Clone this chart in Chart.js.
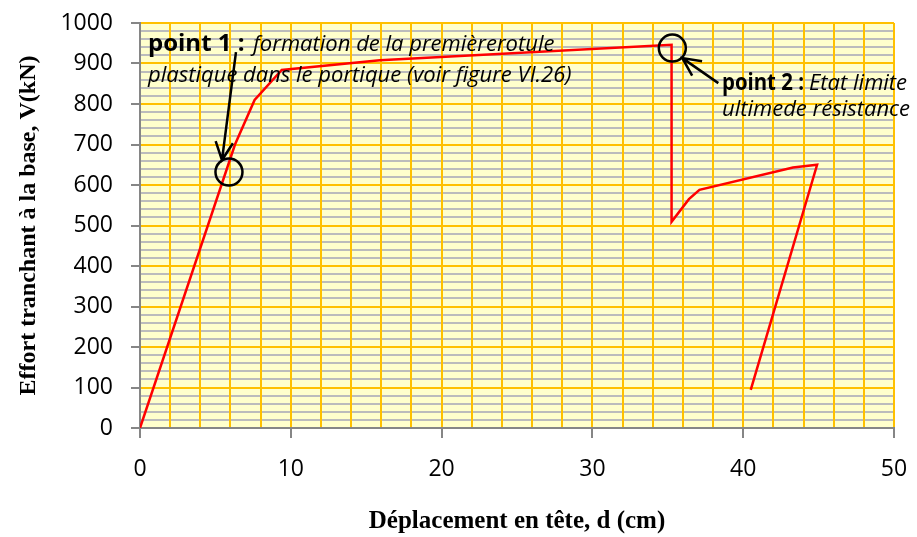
<!DOCTYPE html>
<html>
<head>
<meta charset="utf-8">
<script src="https://cdn.jsdelivr.net/npm/chart.js@4/dist/chart.umd.min.js"></script>
<style>
  body { margin: 0; background: #fff; }
  canvas { display: block; }
</style>
</head>
<body>
<canvas id="chart" width="917" height="537"></canvas>
<script>
'use strict';

// pushover curve: top displacement (cm) vs base shear (kN)
const dispCm   = [0, 6.3, 7.6, 9.4, 15.9, 35.25, 35.25, 36.4, 37.1, 43.3, 44.9, 40.5];
const shearKN  = [0, 700, 810, 884, 908, 946,   509,   565,  588,  643,  650,  94];

const xTicks = [0, 10, 20, 30, 40, 50];
const yTicks = [0, 100, 200, 300, 400, 500, 600, 700, 800, 900, 1000];

// marked points on the curve
const point1 = { x: 5.9, y: 632 };
const point2 = { x: 35.3, y: 938 };

const ORANGE = '#FFC000';
const GREY_MINOR = '#BCBCBC';
const GREY_AXIS = '#868686';
const tickFont = { family: 'Open Sans', size: 23 };

let canvasElem = document.getElementById('chart');

const plotBackground = {
  id: 'plotBackground',
  beforeDraw(chart) {
    const { ctx, chartArea: a } = chart;
    ctx.save();
    ctx.fillStyle = '#FFFFCC';
    ctx.fillRect(a.left, a.top, a.right - a.left, a.bottom - a.top);
    ctx.restore();
  }
};

function arrow(ctx, x1, y1, x2, y2) {
  const ang = Math.atan2(y2 - y1, x2 - x1);
  const len = 20, spread = 0.45;
  ctx.beginPath();
  ctx.moveTo(x1, y1);
  ctx.lineTo(x2, y2);
  ctx.moveTo(x2 - len * Math.cos(ang - spread), y2 - len * Math.sin(ang - spread));
  ctx.lineTo(x2, y2);
  ctx.lineTo(x2 - len * Math.cos(ang + spread), y2 - len * Math.sin(ang + spread));
  ctx.stroke();
}

const notes = {
  id: 'notes',
  afterDatasetsDraw(chart) {
    const { ctx, scales: { x, y } } = chart;
    const p1x = x.getPixelForValue(point1.x), p1y = y.getPixelForValue(point1.y);
    const p2x = x.getPixelForValue(point2.x), p2y = y.getPixelForValue(point2.y);
    ctx.save();
    ctx.strokeStyle = '#000';
    ctx.lineWidth = 2.5;
    ctx.beginPath();
    ctx.arc(p1x, p1y, 13.5, 0, Math.PI * 2);
    ctx.stroke();
    ctx.beginPath();
    ctx.arc(p2x, p2y, 13.5, 0, Math.PI * 2);
    ctx.stroke();

    arrow(ctx, p1x + 7, p1y - 120, p1x - 7, p1y - 12);
    arrow(ctx, p2x + 46, p2y + 35, p2x + 10, p2y + 10);

    ctx.fillStyle = '#000';
    ctx.textBaseline = 'alphabetic';
    ctx.textAlign = 'left';
    ctx.font = 'bold 24px "Open Sans"';
    ctx.fillText('point 1 :', 148, 51, 97);
    ctx.fillText('point 2 :', 722, 90, 82);
    ctx.font = 'italic 22px "Open Sans"';
    ctx.fillText('formation de la premièrerotule', 253, 51, 303);
    ctx.fillText('plastique dans le portique (voir figure VI.26)', 148, 82, 428);
    ctx.fillText('Etat limite', 809, 90, 103);
    ctx.fillText('ultimede résistance', 722, 116, 191);
    ctx.restore();
  }
};

function renderChart() {
  const points = dispCm.map((d, i) => ({ x: d, y: shearKN[i] }));

  const config = {
    type: 'scatter',
    data: {
      datasets: [{
        data: points,
        showLine: true,
        borderColor: '#FF0000',
        borderWidth: 2.5,
        pointRadius: 0,
        tension: 0
      }]
    },
    options: {
      responsive: false,
      animation: false,
      layout: { padding: { top: 23, right: 23, left: 0, bottom: 0 } },
      plugins: { legend: { display: false }, tooltip: { enabled: false } },
      scales: {
        x: {
          type: 'linear',
          min: 0,
          max: 50,
          afterBuildTicks: s => { s.ticks = Array.from({ length: 26 }, (_, i) => ({ value: i * 2 })); },
          ticks: {
            autoSkip: false,
            maxRotation: 0,
            padding: 18,
            color: '#000',
            font: tickFont,
            callback: v => xTicks.includes(v) ? String(v) : ''
          },
          grid: {
            z: -1,
            color: ORANGE,
            lineWidth: 2,
            tickLength: 10,
            tickColor: c => xTicks.includes(c.tick.value) ? GREY_AXIS : 'rgba(0,0,0,0)'
          },
          border: { color: GREY_AXIS, width: 2 },
          title: {
            display: true,
            text: 'Déplacement en tête, d (cm)',
            color: '#000',
            font: { family: 'Liberation Serif', size: 25, weight: 'bold' },
            padding: { top: 0, bottom: 0 }
          },
          afterFit: s => { s.height = 109; s.paddingLeft = 0; s.paddingRight = 0; }
        },
        y: {
          min: 0,
          max: 1000,
          afterBuildTicks: s => { s.ticks = Array.from({ length: 51 }, (_, i) => ({ value: i * 20 })); },
          ticks: {
            autoSkip: false,
            padding: 18,
            color: '#000',
            font: tickFont,
            callback: v => yTicks.includes(v) ? String(v) : ''
          },
          grid: {
            z: -2,
            color: c => yTicks.includes(c.tick.value) ? ORANGE : GREY_MINOR,
            lineWidth: 2,
            tickLength: 9,
            tickColor: c => yTicks.includes(c.tick.value) ? GREY_AXIS : 'rgba(0,0,0,0)'
          },
          border: { color: GREY_AXIS, width: 2 },
          title: {
            display: true,
            text: 'Effort tranchant à la base, V(kN)',
            color: '#000',
            font: { family: 'Liberation Serif', size: 24, weight: 'bold' },
            padding: { top: 14 }
          },
          afterFit: s => { s.width = 140; s.paddingTop = 0; s.paddingBottom = 0; }
        }
      }
    },
    plugins: [plotBackground, notes]
  };

  new Chart(canvasElem, config);
}

renderChart();
</script>
</body>
</html>
